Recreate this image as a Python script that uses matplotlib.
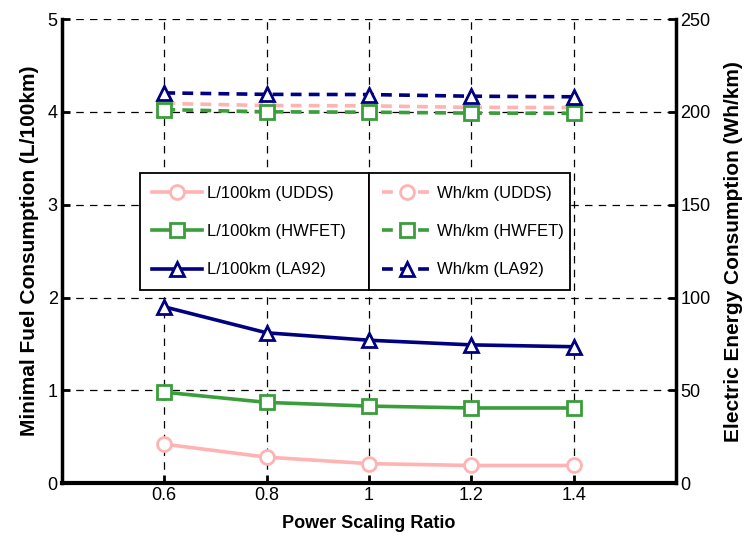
import matplotlib.pyplot as plt

plt.rcParams['font.family'] = ['Liberation Sans', 'DejaVu Sans']

ratio = [0.6, 0.8, 1.0, 1.2, 1.4]

# fuel consumption, L/100km (left axis)
fuel_udds = [0.42, 0.28, 0.21, 0.19, 0.19]
fuel_hwfet = [0.98, 0.87, 0.83, 0.81, 0.81]
fuel_la92 = [1.90, 1.62, 1.54, 1.49, 1.47]

# electric energy, Wh/km (right axis)
elec_udds = [204.6, 203.5, 203.3, 202.5, 202.4]
elec_hwfet = [201.3, 200.1, 199.9, 199.4, 199.3]
elec_la92 = [210.3, 209.5, 209.4, 208.5, 208.2]

pink = '#FFB3B3'
green = '#3A9E3A'
navy = '#000080'

fig = plt.figure(figsize=(7.52, 5.49), dpi=100)
ax = fig.add_axes([0.0824, 0.120, 0.8166, 0.845])
ax2 = ax.twinx()

kw = dict(lw=2.6, ms=10, mew=2, mfc='white')
l1, = ax.plot(ratio, fuel_udds, '-o', color=pink, label='L/100km (UDDS)', **kw)
l2, = ax.plot(ratio, fuel_hwfet, '-s', color=green, label='L/100km (HWFET)', **kw)
l3, = ax.plot(ratio, fuel_la92, '-^', color=navy, label='L/100km (LA92)', **kw)
dkw = dict(kw, ls=(0, (3, 2)))
r1, = ax2.plot(ratio, elec_udds, marker='o', color=pink, label='Wh/km (UDDS)', **dkw)
r2, = ax2.plot(ratio, elec_hwfet, marker='s', color=green, label='Wh/km (HWFET)', **dkw)
r3, = ax2.plot(ratio, elec_la92, marker='^', color=navy, label='Wh/km (LA92)', **dkw)

ax.set_xlim(0.4, 1.6)
ax.set_ylim(0, 5)
ax2.set_ylim(0, 250)
ax.set_xticks(ratio)
ax.set_xticklabels(['0.6', '0.8', '1', '1.2', '1.4'])
ax.set_yticks([0, 1, 2, 3, 4, 5])
ax2.set_yticks([0, 50, 100, 150, 200, 250])

ax.grid(True, color='black', ls=(0, (6, 5)), lw=0.9)
ax.set_axisbelow(True)
for a in (ax, ax2):
    a.spines['top'].set_visible(False)
    a.tick_params(direction='in', length=6, width=2, labelsize=13, pad=3)
ax.spines['left'].set_linewidth(2.5)
ax.spines['bottom'].set_linewidth(3)
ax2.spines['right'].set_linewidth(2.5)
ax2.spines['left'].set_visible(False)
ax2.spines['bottom'].set_visible(False)

ax.set_xlabel('Power Scaling Ratio', fontsize=13, fontweight='bold', labelpad=8)
ax.set_ylabel('Minimal Fuel Consumption (L/100km)', fontsize=15, fontweight='bold', labelpad=6)
ax2.set_ylabel('Electric Energy Consumption (Wh/km)', fontsize=15, fontweight='bold', labelpad=10)

lkw = dict(fontsize=12, frameon=True, fancybox=False, edgecolor='black',
           framealpha=1, handlelength=3.0, handletextpad=0.3, borderaxespad=0,
           mode='expand', labelspacing=1.4, borderpad=0.75)
leg1 = ax2.legend(handles=[l1, l2, l3], loc='upper left',
                  bbox_to_anchor=(0.127, 0.403, 0.373, 0.265), **lkw)
leg1.get_frame().set_linewidth(1.3)
ax2.add_artist(leg1)
leg2 = ax2.legend(handles=[r1, r2, r3], loc='upper left',
                  bbox_to_anchor=(0.5, 0.403, 0.327, 0.265), **lkw)
leg2.get_frame().set_linewidth(1.3)

fig.savefig('out.png', dpi=100)
